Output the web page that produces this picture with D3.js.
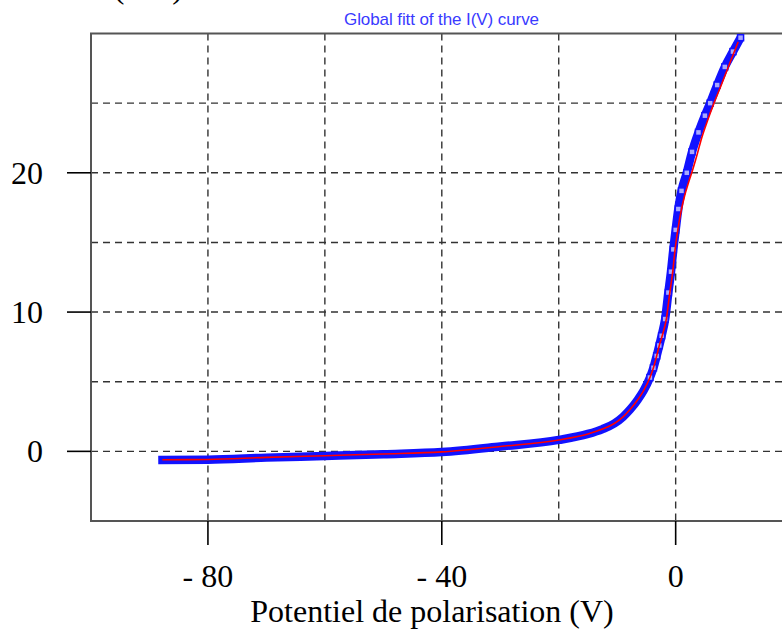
<!DOCTYPE html>
<html>
<head>
<meta charset="utf-8">
<script src="https://cdn.jsdelivr.net/npm/d3@7"></script>
<style>
  body { margin: 0; background: #fff; }
  svg { display: block; }
</style>
</head>
<body>
<div id="chart"></div>
<script>
// measured I(V) points (blue squares)
var measV = [-88.5, -80, -70, -60, -50, -40, -30, -20, -15, -12.5, -10.5, -9, -7.8, -6.5, -5.5, -4.4, -3.8, -3.25, -2.8, -2.4, -1.8, -1.25, -0.8, -0.4, 0, 0.45, 1.0, 1.9, 2.8, 3.9, 5.0, 5.9, 7.1, 8.4, 9.8, 11.1];
var measI = [-0.62, -0.6, -0.45, -0.33, -0.2, -0.05, 0.35, 0.82, 1.25, 1.6, 2.0, 2.48, 3.0, 3.7, 4.35, 5.3, 6.0, 6.85, 7.6, 8.3, 9.5, 11.4, 12.9, 14.5, 15.9, 17.4, 18.7, 20, 21.5, 22.9, 24.1, 25, 26.3, 27.6, 28.7, 29.7];

// global fit (red line)
var fitV = [-87.8, -80, -70, -60, -50, -40, -30, -20, -15, -12.5, -10.5, -9, -7.8, -6.5, -5.5, -4.4, -3.8, -3.25, -2.8, -2.3, -1.6, -1.0, -0.5, -0.1, 0.4, 0.9, 1.5, 2.2, 2.9, 3.6, 4.45, 5.5, 6.55, 7.7, 9, 10.7];
var fitI = [-0.6, -0.58, -0.43, -0.31, -0.19, -0.04, 0.35, 0.82, 1.25, 1.6, 2.0, 2.48, 3.0, 3.7, 4.35, 5.3, 6.0, 6.85, 7.6, 8.3, 9.5, 11.4, 12.9, 14.5, 16.0, 17.2, 18.3, 19.3, 20.2, 21.2, 22.5, 23.8, 25, 26.2, 27.6, 29.4];

var xGrid = [-80, -60, -40, -20, 0];
var yGrid = [0, 5, 10, 15, 20, 25];
var xTicks = [-80, -40, 0];
var yTicks = [0, 10, 20];

var width = 782, height = 643;

var x = d3.scaleLinear().domain([-100, 20]).range([91, 792.6]);
var y = d3.scaleLinear().domain([-5, 30]).range([521, 33.5]);

var svg = d3.select('#chart')
  .append('svg')
  .attr('width', width)
  .attr('height', height);

// title
svg.append('text')
  .attr('x', 344)
  .attr('y', 25)
  .attr('font-family', 'Liberation Sans, Arial, sans-serif')
  .attr('font-size', 17)
  .attr('fill', '#3a3aff')
  .attr('textLength', 195)
  .text('Global fitt of the I(V) curve');

// y label, cut by the top of the picture as in the original
svg.append('text')
  .attr('x', 95)
  .attr('y', -2)
  .attr('font-family', 'Liberation Serif, Times New Roman, serif')
  .attr('font-size', 32)
  .attr('fill', '#000')
  .text('I (mA)');

// grid
svg.append('g').selectAll('line')
  .data(xGrid)
  .enter()
  .append('line')
  .attr('x1', d => x(d)).attr('x2', d => x(d))
  .attr('y1', y(30)).attr('y2', y(-5))
  .attr('stroke', '#333')
  .attr('stroke-width', 1.4)
  .attr('stroke-dasharray', '7,5');

svg.append('g').selectAll('line')
  .data(yGrid)
  .enter()
  .append('line')
  .attr('x1', x(-100)).attr('x2', x(20))
  .attr('y1', d => y(d)).attr('y2', d => y(d))
  .attr('stroke', '#333')
  .attr('stroke-width', 1.4)
  .attr('stroke-dasharray', '7,5');

// frame
svg.append('rect')
  .attr('x', x(-100))
  .attr('y', y(30))
  .attr('width', x(20) - x(-100))
  .attr('height', y(-5) - y(30))
  .attr('fill', 'none')
  .attr('stroke', '#555')
  .attr('stroke-width', 2);

// outward ticks
svg.append('g').selectAll('line')
  .data(xTicks)
  .enter()
  .append('line')
  .attr('x1', d => x(d)).attr('x2', d => x(d))
  .attr('y1', y(-5)).attr('y2', y(-5) + 24)
  .attr('stroke', '#000')
  .attr('stroke-width', 1.6);

svg.append('g').selectAll('line')
  .data(yTicks)
  .enter()
  .append('line')
  .attr('x1', x(-100) - 24).attr('x2', x(-100))
  .attr('y1', d => y(d)).attr('y2', d => y(d))
  .attr('stroke', '#000')
  .attr('stroke-width', 1.6);

// tick labels
svg.append('g').selectAll('text')
  .data(xTicks)
  .enter()
  .append('text')
  .attr('x', d => x(d))
  .attr('y', 587)
  .attr('text-anchor', 'middle')
  .attr('font-family', 'Liberation Serif, Times New Roman, serif')
  .attr('font-size', 32)
  .text(d => d < 0 ? '- ' + Math.abs(d) : d);

svg.append('g').selectAll('text')
  .data(yTicks)
  .enter()
  .append('text')
  .attr('x', 43)
  .attr('y', d => y(d) + 11)
  .attr('text-anchor', 'end')
  .attr('font-family', 'Liberation Serif, Times New Roman, serif')
  .attr('font-size', 32)
  .text(d => d);

// x label
svg.append('text')
  .attr('x', 432)
  .attr('y', 622)
  .attr('text-anchor', 'middle')
  .attr('font-family', 'Liberation Serif, Times New Roman, serif')
  .attr('font-size', 32)
  .text('Potentiel de polarisation (V)');

var meas = measV.map((v, i) => ({ v: v, c: measI[i] }));
var fit = fitV.map((v, i) => ({ v: v, c: fitI[i] }));

var line = d3.line()
  .x(d => x(d.v))
  .y(d => y(d.c))
  .curve(d3.curveMonotoneX);

// measured data: thick band of overlapping squares
svg.append('path')
  .datum(meas)
  .attr('d', line)
  .attr('fill', 'none')
  .attr('stroke', '#1212ff')
  .attr('stroke-width', 8.5);

svg.append('g').selectAll('rect')
  .data(meas.filter(d => d.c > 5))
  .enter()
  .append('rect')
  .attr('x', d => x(d.v) - 3)
  .attr('y', d => y(d.c) - 3)
  .attr('width', 6)
  .attr('height', 6)
  .attr('fill', '#a8a8ff')
  .attr('stroke', '#1212ff')
  .attr('stroke-width', 1.5);

// fit
svg.append('path')
  .datum(fit)
  .attr('d', line)
  .attr('fill', 'none')
  .attr('stroke', '#ff0000')
  .attr('stroke-width', 1.6);
</script>
</body>
</html>
